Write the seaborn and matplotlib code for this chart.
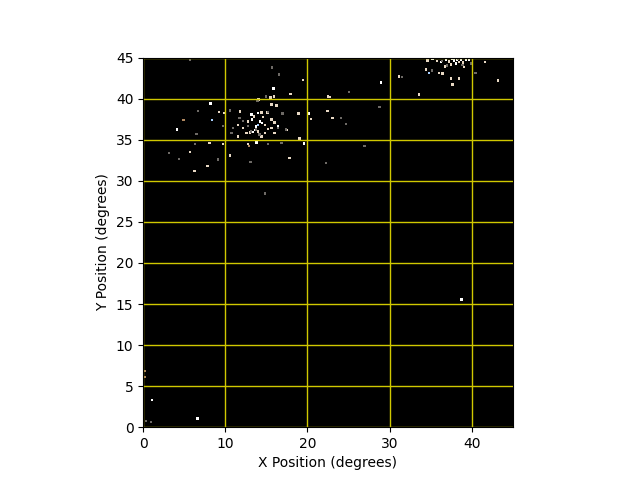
import matplotlib
matplotlib.use("Agg")
import matplotlib.pyplot as plt
import pandas as pd
import seaborn as sns

# star positions (degrees) and a rough colour class
# w = white, b = beige, g = faint grey, u = bluish, t = tan
x_deg = [
    5.67, 15.65, 15.85, 17.92, 19.47, 22.48, 22.77, 14.03, 14.92, 15.49,
    8.21, 4.89, 8.37, 4.12, 9.22, 9.83, 18.92, 20.22, 20.44, 22.44,
    23.05, 24.05, 19.01, 19.59, 9.70, 8.09, 6.34, 12.74, 12.86, 10.59,
    5.67, 3.15, 4.37, 7.82, 6.27, 13.06, 17.79, 22.23, 14.80, 17.43,
    16.95, 28.95, 31.11, 28.75, 24.71, 15.89,
    13.91, 15.61, 16.22, 11.77, 13.19, 13.50, 13.99, 14.40, 15.13, 12.77,
    13.99, 14.19, 14.47, 14.80, 15.61, 16.01, 11.56, 12.17, 13.59, 13.99,
    15.20, 15.61, 16.41, 12.58, 12.98, 13.38, 10.76, 11.56, 14.40, 14.80,
    16.01, 13.79, 15.20, 16.82, 13.22, 14.56, 13.71,
    10.59, 11.73, 12.13, 12.74, 15.16, 16.98, 10.92, 13.74, 14.16, 13.14,
    16.38, 17.38, 16.50, 6.67, 9.70, 6.47, 9.10,
    34.61, 35.21, 35.78, 36.23, 36.87, 37.24, 37.60, 37.84, 38.21, 38.45,
    38.09, 38.69, 38.94, 39.30, 39.66, 37.48, 39.06, 41.61, 34.81, 34.41,
    36.03, 36.43, 37.44, 38.45, 37.64, 40.48, 43.18, 31.50, 33.56, 25.07,
    26.96, 35.17, 36.75, 37.00, 38.90, 39.90, 36.40, 38.30,
    38.73, 6.59, 1.06, 0.33, 0.16, 0.24, 0.97,
]
y_deg = [
    44.79, 43.78, 41.22, 40.55, 42.26, 40.28, 40.21, 39.91, 40.24, 40.12,
    39.43, 37.40, 37.40, 36.26, 38.41, 38.29, 38.17, 38.17, 37.56, 38.48,
    37.68, 37.68, 35.16, 34.55, 34.51, 34.63, 34.51, 34.51, 34.27, 33.08,
    33.54, 33.41, 32.62, 31.83, 31.18, 32.28, 32.80, 32.19, 28.45, 36.22,
    38.26, 41.99, 42.71, 38.99, 36.92, 40.28,
    39.79, 39.27, 39.15, 38.45, 38.05, 37.84, 38.26, 38.33, 38.33, 37.23,
    36.83, 37.23, 37.04, 36.83, 37.44, 37.11, 36.83, 36.43, 36.22, 36.01,
    36.30, 36.43, 36.62, 35.82, 35.89, 35.94, 35.82, 35.40, 35.40, 35.82,
    35.82, 34.67, 34.51, 34.60, 37.44, 37.80, 36.59,
    38.55, 37.68, 37.28, 36.67, 38.38, 38.21, 36.46, 36.26, 35.65, 35.98,
    36.46, 36.26, 42.96, 38.50, 36.67, 35.73, 32.60,
    44.63, 44.84, 44.55, 44.48, 44.76, 44.51, 44.82, 44.63, 44.69, 44.45,
    44.27, 44.75, 44.39, 44.69, 44.75, 44.15, 43.87, 44.48, 43.13, 43.54,
    43.13, 43.05, 42.44, 42.44, 41.71, 43.13, 42.23, 42.65, 40.52, 40.82,
    34.23, 43.41, 43.90, 44.05, 44.10, 44.30, 44.60, 44.85,
    15.57, 1.06, 3.33, 0.73, 6.87, 6.10, 0.61,
]
star_class = [
    "g", "g", "w", "b", "b", "b", "b", "b", "g", "b",
    "w", "t", "u", "w", "b", "b", "b", "w", "b", "b",
    "b", "g", "b", "w", "b", "b", "g", "b", "t", "b",
    "b", "g", "g", "b", "b", "g", "b", "g", "g", "b",
    "b", "w", "b", "g", "g", "b",
    "g", "b", "b", "b", "w", "b", "w", "b", "b", "b",
    "u", "w", "w", "b", "b", "b", "b", "b", "w", "b",
    "b", "b", "w", "b", "b", "w", "g", "b", "b", "b",
    "b", "w", "g", "g", "w", "b", "w",
    "g", "g", "g", "g", "g", "g", "g", "g", "g", "g",
    "g", "g", "g", "g", "g", "g", "g",
    "b", "w", "b", "w", "w", "b", "w", "w", "w", "b",
    "w", "w", "b", "w", "w", "b", "b", "b", "u", "b",
    "b", "b", "b", "b", "b", "g", "b", "g", "b", "g",
    "g", "g", "b", "g", "g", "g", "g", "g",
    "w", "w", "w", "g", "t", "t", "g",
]

class_colors = {
    "w": "#ffffff",
    "b": "#e8d8c4",
    "g": "#6e6a66",
    "u": "#a8cfff",
    "t": "#b08860",
}

stars = pd.DataFrame({"x": x_deg, "y": y_deg, "cls": star_class})

fig, ax = plt.subplots(figsize=(6.4, 4.8), dpi=100)
ax.set_facecolor("black")

sns.scatterplot(
    data=stars, x="x", y="y", hue="cls", palette=class_colors,
    marker="s", s=3, linewidth=0, legend=False, ax=ax,
)

ax.set_xlim(0, 45)
ax.set_ylim(0, 45)
ax.set_aspect("equal")
ax.grid(True, color="#d0c800", linewidth=1)
ax.set_xlabel("X Position (degrees)")
ax.set_ylabel("Y Position (degrees)")

fig.savefig("out.png", dpi=100)
